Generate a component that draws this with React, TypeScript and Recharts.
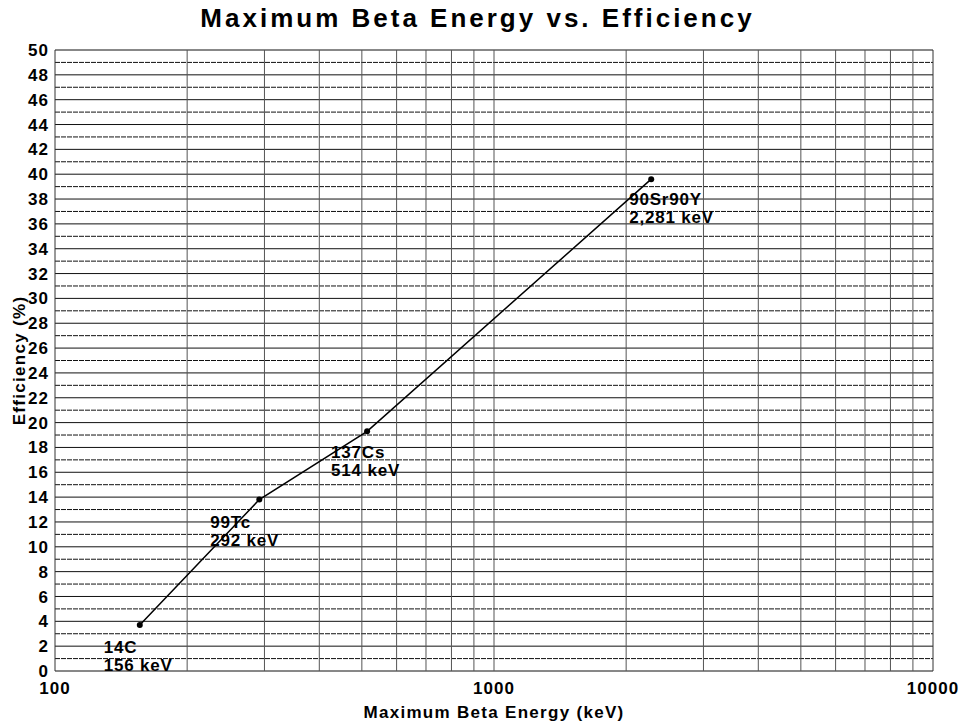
import { LineChart, Line, XAxis, YAxis, ReferenceLine, Label } from 'recharts'

const energies = [156, 292, 514, 2281]
const efficiencies = [3.7, 13.8, 19.3, 39.6]
const isotopes = ['14C', '99Tc', '137Cs', '90Sr90Y']
const energyLabels = ['156 keV', '292 keV', '514 keV', '2,281 keV']

const xTicks = [100, 1000, 10000]
const yTicks = [0, 2, 4, 6, 8, 10, 12, 14, 16, 18, 20, 22, 24, 26, 28, 30, 32, 34, 36, 38, 40, 42, 44, 46, 48, 50]
const oddLines = [1, 3, 5, 7, 9, 11, 13, 15, 17, 19, 21, 23, 25, 27, 29, 31, 33, 35, 37, 39, 41, 43, 45, 47, 49]
const vLines = [200, 300, 400, 500, 600, 700, 800, 900, 1000, 2000, 3000, 4000, 5000, 6000, 7000, 8000, 9000]

// label placement relative to each point (px)
const labelDx = [-36, -49, -36, -22]
const labelDy = [16, 16, 15, 14]

const data = energies.map((e, i) => ({ energy: e, eff: efficiencies[i] }))

const font = '"Liberation Sans", Arial, sans-serif'

function PointLabel(props: any) {
  const { x, y, index } = props
  const lx = x + labelDx[index]
  const ly = y + labelDy[index] + 12
  const st = { fontFamily: font, fontWeight: 'bold' as const, fontSize: 17, letterSpacing: 0.8 }
  return (
    <g>
      <text x={lx} y={ly} fill="#000" style={st}>
        {isotopes[index]}
      </text>
      <text x={lx} y={ly + 18} fill="#000" style={st}>
        {energyLabels[index]}
      </text>
    </g>
  )
}

export default function App() {
  const tick = { fontFamily: font, fontWeight: 'bold' as const, fontSize: 17, fill: '#000', letterSpacing: 1 }
  const axisLabel = { fontFamily: font, fontWeight: 'bold', fontSize: 17, fill: '#000', letterSpacing: 1.3 }
  return (
    <div style={{ position: 'absolute', left: 0, top: 0, width: 963, height: 723, background: '#fff' }}>
      <div
        style={{
          position: 'absolute',
          left: 0,
          top: 3,
          width: 963,
          boxSizing: 'border-box',
          paddingRight: 8,
          textAlign: 'center',
          fontFamily: font,
          fontWeight: 'bold',
          fontSize: 26,
          lineHeight: '30px',
          letterSpacing: 3,
        }}
      >
        Maximum Beta Energy vs. Efficiency
      </div>
      <LineChart width={963} height={723} data={data} margin={{ top: 50, right: 30, bottom: 0, left: 0 }}>
        {oddLines.map((v) => (
          <ReferenceLine key={'o' + v} y={v} stroke="#111" strokeDasharray="5 1" />
        ))}
        {yTicks.map((v) => (
          <ReferenceLine key={'e' + v} y={v} stroke="#111" />
        ))}
        {vLines.map((v) => (
          <ReferenceLine key={'v' + v} x={v} stroke="#555" />
        ))}
        <ReferenceLine x={100} stroke="#333" />
        <ReferenceLine x={10000} stroke="#333" />
        <XAxis
          dataKey="energy"
          type="number"
          scale="log"
          domain={[100, 10000]}
          ticks={xTicks}
          allowDataOverflow
          height={52}
          tickSize={0}
          tickMargin={11}
          axisLine={false}
          tick={tick}
        >
          <Label value="Maximum Beta Energy (keV)" position="insideBottom" offset={5} style={axisLabel} />
        </XAxis>
        <YAxis
          type="number"
          domain={[0, 50]}
          ticks={yTicks}
          interval={0}
          width={55}
          tickSize={0}
          tickMargin={6}
          axisLine={false}
          tick={tick}
        >
          <Label
            value="Efficiency (%)"
            angle={-90}
            position="insideLeft"
            offset={19}
            style={{ ...axisLabel, textAnchor: 'middle' }}
          />
        </YAxis>
        <Line
          dataKey="eff"
          stroke="#000"
          strokeWidth={1.5}
          dot={{ r: 3, fill: '#000', stroke: '#000', strokeWidth: 0 }}
          activeDot={false}
          label={<PointLabel />}
          isAnimationActive={false}
        />
      </LineChart>
    </div>
  )
}
